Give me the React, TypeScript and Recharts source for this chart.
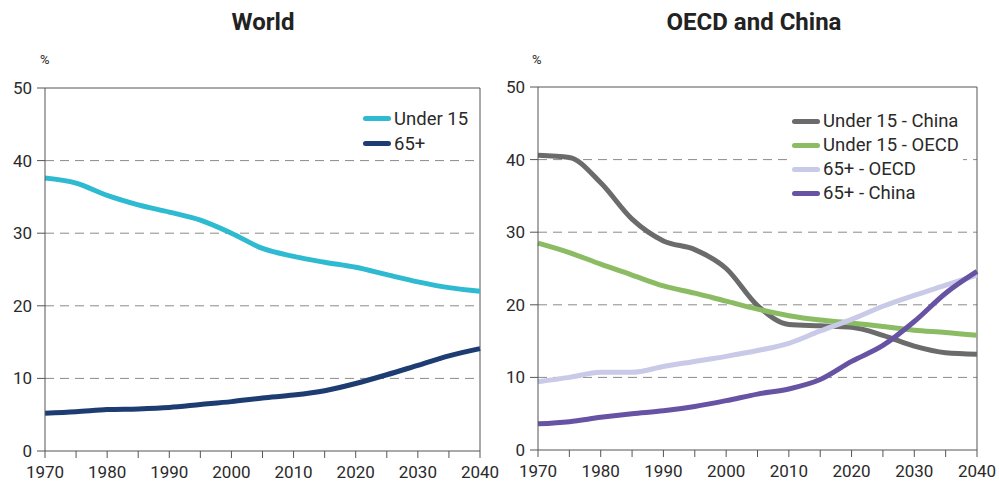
import React from 'react'
import { LineChart, Line, XAxis, YAxis, CartesianGrid, ReferenceLine } from 'recharts'

// Years sampled every 5 years, values in % of population
const years = [1970, 1975, 1980, 1985, 1990, 1995, 2000, 2005, 2010, 2015, 2020, 2025, 2030, 2035, 2040]

const worldUnder15 = [37.6, 36.9, 35.2, 33.9, 32.9, 31.8, 30.0, 27.9, 26.8, 26.0, 25.3, 24.3, 23.3, 22.5, 22.0]
const world65 = [5.2, 5.4, 5.7, 5.8, 6.0, 6.4, 6.8, 7.3, 7.7, 8.3, 9.3, 10.5, 11.8, 13.1, 14.1]

const chinaUnder15 = [40.6, 40.3, 36.8, 31.8, 28.8, 27.6, 25.0, 19.9, 17.3, 17.1, 16.9, 15.8, 14.3, 13.4, 13.2]
const oecdUnder15 = [28.5, 27.2, 25.6, 24.1, 22.6, 21.6, 20.5, 19.4, 18.5, 17.9, 17.5, 17.0, 16.5, 16.2, 15.8]
const oecd65 = [9.4, 10.0, 10.7, 10.7, 11.5, 12.2, 12.9, 13.7, 14.7, 16.4, 18.0, 19.8, 21.3, 22.7, 24.1]
const china65 = [3.6, 3.9, 4.5, 5.0, 5.4, 6.0, 6.8, 7.7, 8.4, 9.7, 12.2, 14.4, 17.7, 21.6, 24.6]

const xTicks = years
const yTicks = [0, 10, 20, 30, 40, 50]

const worldData = years.map((year, i) => ({ year, under15: worldUnder15[i], over65: world65[i] }))
const oecdData = years.map((year, i) => ({
  year,
  chinaU15: chinaUnder15[i],
  oecdU15: oecdUnder15[i],
  oecd65: oecd65[i],
  china65: china65[i],
}))

const FONT = 'Roboto, "DejaVu Sans", sans-serif'
const AXIS = '#555'
const TEXT = '#2a2a2a'

type Series = { key: string; name: string; color: string }

function LegendBox({ items, rowGap, left, top }: { items: Series[]; rowGap: number; left: number; top: number }) {
  return (
    <div style={{ position: 'absolute', left, top, background: '#fff', padding: '0 4px', fontFamily: FONT }}>
      {items.map((it) => (
        <div key={it.name} style={{ display: 'flex', alignItems: 'center', height: rowGap }}>
          <span
            style={{
              display: 'inline-block',
              width: 28,
              height: 5,
              borderRadius: 3,
              background: it.color,
              marginRight: 3,
            }}
          />
          <span style={{ fontSize: 18.5, color: TEXT, whiteSpace: 'nowrap' }}>{it.name}</span>
        </div>
      ))}
    </div>
  )
}

const xTickFmt = (v: number) => (v % 10 === 0 ? String(v) : '')

function Panel({ width, margin, data, series }: { width: number; margin: any; data: any[]; series: Series[] }) {
  return (
    <LineChart width={width} height={484} data={data} margin={margin}>
      <CartesianGrid
        horizontal
        vertical={false}
        stroke="#8a8a8a"
        strokeDasharray="9 6"
        horizontalValues={[10, 20, 30, 40]}
      />
      <XAxis
        dataKey="year"
        type="number"
        domain={[1970, 2040]}
        ticks={xTicks}
        tickFormatter={xTickFmt}
        interval={0}
        height={30}
        stroke={AXIS}
        tickSize={7}
        tickMargin={8}
        tick={{ fill: TEXT, fontSize: 17, fontFamily: FONT }}
      />
      <YAxis
        domain={[0, 50]}
        ticks={yTicks}
        width={38}
        stroke={AXIS}
        tickSize={8}
        tickMargin={5}
        tick={{ fill: TEXT, fontSize: 17, fontFamily: FONT }}
      />
      <ReferenceLine y={50} stroke={AXIS} strokeWidth={1} />
      <ReferenceLine x={2040} stroke={AXIS} strokeWidth={1} />
      {series.map((s) => (
        <Line
          key={s.key}
          dataKey={s.key}
          name={s.name}
          type="monotone"
          stroke={s.color}
          strokeWidth={5}
          dot={false}
          isAnimationActive={false}
        />
      ))}
    </LineChart>
  )
}

export default function App() {
  const worldSeries = [
    { key: 'under15', name: 'Under 15', color: '#2ebad0' },
    { key: 'over65', name: '65+', color: '#1c3c72' },
  ]
  const oecdSeries = [
    { key: 'chinaU15', name: 'Under 15 - China', color: '#6b6b6b' },
    { key: 'oecdU15', name: 'Under 15 - OECD', color: '#8bbb62' },
    { key: 'oecd65', name: '65+ - OECD', color: '#c9c9e8' },
    { key: 'china65', name: '65+ - China', color: '#6753a3' },
  ]
  const title: React.CSSProperties = {
    position: 'absolute',
    top: 8,
    fontFamily: FONT,
    fontWeight: 700,
    fontSize: 24,
    color: '#222',
    textAlign: 'center',
  }
  const pct: React.CSSProperties = {
    position: 'absolute',
    top: 52,
    fontFamily: FONT,
    fontSize: 13,
    color: TEXT,
  }
  return (
    <div style={{ position: 'absolute', left: 0, top: 0, width: 999, height: 484, background: '#fff' }}>
      <div style={{ ...title, left: 163, width: 200 }}>World</div>
      <div style={{ ...title, left: 654, width: 200 }}>OECD and China</div>
      <div style={{ ...pct, left: 40 }}>%</div>
      <div style={{ ...pct, left: 532 }}>%</div>
      <div style={{ position: 'absolute', left: 0, top: 0 }}>
        <Panel
          width={520}
          margin={{ top: 88, right: 40, bottom: 3, left: 7 }}
          data={worldData}
          series={worldSeries}
        />
      </div>
      <LegendBox items={worldSeries} rowGap={25} left={359} top={106} />
      <div style={{ position: 'absolute', left: 495, top: 0 }}>
        <Panel
          width={504}
          margin={{ top: 87, right: 22, bottom: 4, left: 5 }}
          data={oecdData}
          series={oecdSeries}
        />
      </div>
      <LegendBox items={oecdSeries} rowGap={24} left={788} top={109} />
    </div>
  )
}
